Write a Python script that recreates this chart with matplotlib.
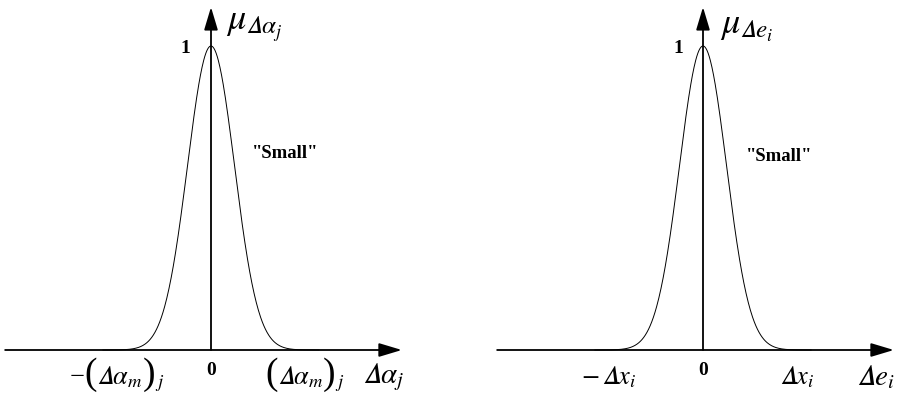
import numpy as np
import matplotlib.pyplot as plt
from matplotlib.offsetbox import TextArea, HPacker, AnnotationBbox

plt.rcParams['mathtext.fontset'] = 'stix'
plt.rcParams['font.family'] = 'Liberation Serif'

# gaussian membership function "Small"
peak = 1.0
center = 0.0
spread = 0.25
x_extent = 1.15

D = '\U0001D6E5'  # italic capital delta
tick_values = [-1.0, 0.0, 1.0]
left_ticks = [['\u2212', '(', rf'${D}\alpha_m$', ')', r'$_j$'], '0',
              ['(', rf'${D}\alpha_m$', ')', r'$_j$']]
right_ticks = [rf'$-\,{D} x_i$', '0', rf'${D} x_i$']
left_xlabel = rf'${D}\alpha_j$'
right_xlabel = rf'${D} e_i$'
left_ylabel = rf'$\mu_{{{D}\alpha_j}}$'
right_ylabel = rf'$\mu_{{{D} e_i}}$'
set_name = '"Small"'

xs = np.linspace(center - x_extent, center + x_extent, 400)
mu = peak * np.exp(-(xs - center) ** 2 / (2 * spread ** 2))

fig = plt.figure(figsize=(9.05, 3.99), dpi=100)
ax1 = fig.add_axes([0, 0, 450 / 905, 1])
ax2 = fig.add_axes([450 / 905, 0, 455 / 905, 1])

unit = 94.0
yunit = 304.0


def paren_label(ax, x, y, parts):
    boxes = []
    for p in parts:
        size = 27 if p in '()' else 19
        boxes.append(TextArea(p, textprops=dict(fontsize=size, family='Liberation Serif')))
    pack = HPacker(children=boxes, align='baseline', pad=0, sep=0)
    ab = AnnotationBbox(pack, (x, y), frameon=False, box_alignment=(0.5, 0.5),
                        pad=0)
    ax.add_artist(ab)


def draw_panel(ax, x0, ticks, xlabel, ylabel, one_dx, mu_dx, small_x, small_y):
    width = ax.get_position().width * 905
    ax.set_xlim(-x0 / unit, (width - x0) / unit)
    ax.set_ylim(-49 / yunit, 350 / yunit)
    ax.axis('off')

    arrow = dict(arrowstyle='-|>,head_length=1.4,head_width=0.42',
                 color='black', lw=1.3, shrinkA=0, shrinkB=0)
    ax.annotate('', xy=(2.03, 0), xytext=(-2.19, 0), arrowprops=arrow)
    ax.annotate('', xy=(0, 1.128), xytext=(0, 0), arrowprops=arrow)

    ax.plot(xs, mu, color='black', lw=0.7)

    ax.text(one_dx, peak - 0.007, '1', fontsize=14, fontweight='bold',
            ha='center', va='center')
    ax.text(mu_dx, 1.06, ylabel, fontsize=26, ha='left', va='center')
    ax.text(small_x, small_y, set_name, fontsize=13.5, fontweight='bold',
            ha='center', va='center')

    for tv, tl in zip(tick_values, ticks):
        if tl == '0':
            ax.text(tv, -0.066, tl, fontsize=14, fontweight='bold',
                    ha='center', va='center')
        elif isinstance(tl, list):
            paren_label(ax, tv, -0.085, tl)
        else:
            ax.text(tv, -0.09, tl, fontsize=19, ha='center', va='center')
    ax.text(1.84, -0.09, xlabel, fontsize=21, ha='center', va='center')


draw_panel(ax1, 211, left_ticks, left_xlabel, left_ylabel, -0.277, 0.16, 0.787, 0.648)
draw_panel(ax2, 253, right_ticks, right_xlabel, right_ylabel, -0.266, 0.18, 0.81, 0.635)

fig.savefig('out.png', dpi=100)
